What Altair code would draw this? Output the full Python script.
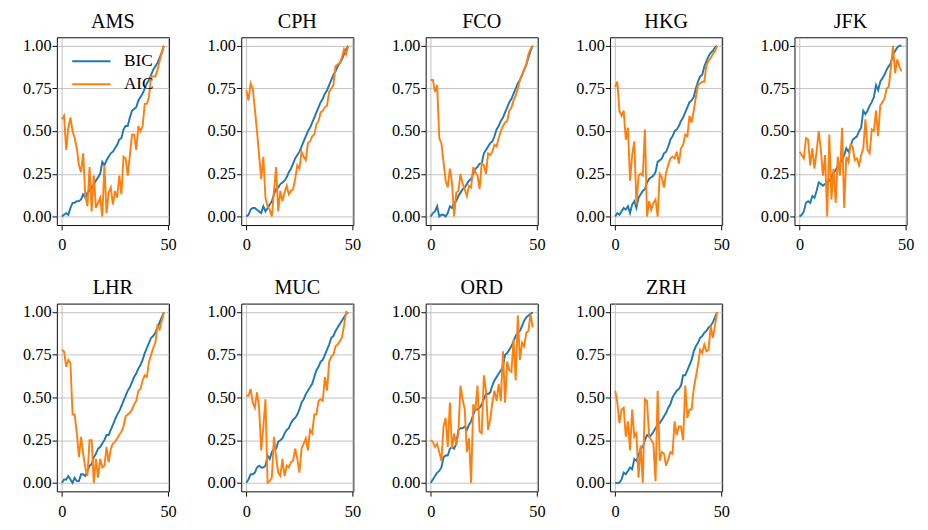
import altair as alt
import pandas as pd

AIRPORTS = ["AMS", "CPH", "FCO", "HKG", "JFK", "LHR", "MUC", "ORD", "ZRH"]
SERIES = ["BIC", "AIC"]
COLORS = ["#1f77b4", "#ff7f0e"]
Y_TICKS = [0, 0.25, 0.5, 0.75, 1.0]
X_TICKS = [0, 50]

AMS_BIC = [0.00,0.01,0.02,0.01,0.05,0.08,0.08,0.09,0.09,0.10,0.13,0.11,0.14,0.15,0.17,0.19,0.21,0.23,0.25,0.32,
           0.30,0.33,0.35,0.37,0.38,0.40,0.42,0.45,0.46,0.51,0.53,0.53,0.58,0.62,0.63,0.64,0.68,0.70,0.72,0.75,
           0.78,0.80,0.83,0.86,0.88,0.90,0.93,0.96,1.00]
AMS_AIC = [0.57,0.59,0.39,0.52,0.58,0.50,0.46,0.40,0.30,0.26,0.37,0.12,0.06,0.29,0.03,0.24,0.05,0.08,0.11,0.00,
           0.30,0.02,0.14,0.17,0.07,0.15,0.11,0.24,0.13,0.35,0.34,0.24,0.36,0.48,0.48,0.39,0.53,0.50,0.53,0.66,
           0.66,0.70,0.82,0.82,0.82,0.86,0.91,0.96,1.00]

CPH_BIC = [0.00,0.01,0.04,0.05,0.05,0.04,0.03,0.02,0.06,0.03,0.05,0.07,0.09,0.13,0.16,0.17,0.19,0.20,0.21,0.23,
           0.26,0.28,0.31,0.34,0.36,0.38,0.41,0.44,0.47,0.50,0.52,0.55,0.58,0.61,0.64,0.67,0.69,0.72,0.74,0.77,
           0.80,0.83,0.85,0.88,0.90,0.92,0.95,0.98,1.00]
CPH_AIC = [0.74,0.68,0.78,0.75,0.63,0.50,0.36,0.22,0.35,0.11,0.06,0.04,0.00,0.15,0.29,0.03,0.15,0.09,0.14,0.18,
           0.13,0.15,0.16,0.22,0.30,0.28,0.38,0.35,0.33,0.43,0.44,0.47,0.48,0.54,0.56,0.61,0.62,0.64,0.65,0.73,
           0.75,0.77,0.88,0.89,0.90,0.93,0.98,0.95,1.00]

FCO_BIC = [0.00,0.02,0.03,0.06,0.00,0.01,0.01,0.00,0.02,0.06,0.05,0.08,0.09,0.12,0.14,0.16,0.17,0.19,0.21,0.22,
           0.25,0.28,0.29,0.31,0.31,0.37,0.39,0.41,0.43,0.44,0.47,0.51,0.53,0.56,0.58,0.61,0.64,0.67,0.69,0.72,
           0.75,0.78,0.80,0.83,0.86,0.89,0.93,0.97,1.00]
FCO_AIC = [0.80,0.80,0.73,0.77,0.46,0.43,0.32,0.21,0.17,0.28,0.20,0.00,0.14,0.15,0.25,0.19,0.16,0.12,0.18,0.17,
           0.29,0.26,0.24,0.16,0.31,0.30,0.25,0.37,0.36,0.38,0.42,0.41,0.46,0.50,0.53,0.55,0.56,0.62,0.64,0.68,
           0.71,0.75,0.80,0.83,0.86,0.89,0.95,0.98,1.00]

HKG_BIC = [0.00,0.02,0.01,0.03,0.05,0.04,0.06,0.02,0.07,0.09,0.05,0.11,0.13,0.15,0.16,0.20,0.22,0.23,0.24,0.26,
           0.32,0.33,0.34,0.37,0.38,0.41,0.45,0.47,0.50,0.51,0.53,0.56,0.58,0.61,0.64,0.67,0.68,0.70,0.75,0.79,
           0.82,0.83,0.88,0.91,0.94,0.96,0.97,0.99,1.00]
HKG_AIC = [0.76,0.79,0.62,0.59,0.62,0.45,0.52,0.21,0.36,0.44,0.07,0.24,0.25,0.24,0.51,0.00,0.09,0.04,0.08,0.10,
           0.00,0.25,0.23,0.17,0.26,0.30,0.34,0.35,0.34,0.38,0.31,0.40,0.42,0.48,0.47,0.59,0.55,0.62,0.70,0.77,
           0.78,0.79,0.79,0.89,0.91,0.93,0.95,0.97,1.00]

JFK_BIC = [0.00,0.01,0.03,0.08,0.09,0.08,0.12,0.11,0.15,0.20,0.19,0.18,0.19,0.20,0.21,0.23,0.26,0.27,0.30,0.31,
           0.33,0.36,0.40,0.38,0.41,0.45,0.46,0.47,0.50,0.52,0.62,0.60,0.62,0.65,0.67,0.70,0.77,0.74,0.79,0.81,
           0.83,0.86,0.88,0.90,0.95,0.97,0.99,1.00,1.00]
JFK_AIC = [0.38,0.36,0.34,0.46,0.45,0.30,0.40,0.28,0.38,0.50,0.39,0.24,0.36,0.00,0.48,0.10,0.28,0.08,0.35,0.24,
           0.52,0.05,0.35,0.32,0.42,0.41,0.33,0.34,0.30,0.36,0.40,0.57,0.39,0.37,0.51,0.50,0.62,0.47,0.65,0.67,
           0.69,0.75,0.76,0.87,1.00,0.84,0.92,0.88,0.85]

LHR_BIC = [0.00,0.02,0.02,0.04,0.02,0.00,0.03,0.01,0.01,0.05,0.05,0.04,0.07,0.10,0.11,0.15,0.17,0.20,0.21,0.23,
           0.25,0.28,0.28,0.31,0.34,0.37,0.40,0.42,0.45,0.48,0.51,0.54,0.56,0.59,0.62,0.64,0.67,0.69,0.72,0.76,
           0.79,0.82,0.85,0.86,0.88,0.91,0.94,0.97,1.00]
LHR_AIC = [0.78,0.77,0.68,0.72,0.70,0.40,0.40,0.29,0.15,0.27,0.17,0.09,0.04,0.25,0.25,0.00,0.14,0.03,0.14,0.09,
           0.10,0.21,0.12,0.20,0.23,0.24,0.26,0.28,0.30,0.33,0.39,0.40,0.41,0.43,0.46,0.48,0.54,0.55,0.60,0.63,
           0.62,0.71,0.75,0.79,0.82,0.92,0.90,0.95,1.00]

MUC_BIC = [0.00,0.02,0.05,0.05,0.06,0.09,0.10,0.09,0.09,0.10,0.16,0.14,0.18,0.20,0.20,0.24,0.25,0.26,0.29,0.31,
           0.32,0.35,0.37,0.38,0.40,0.43,0.47,0.49,0.52,0.54,0.56,0.58,0.62,0.66,0.68,0.71,0.72,0.75,0.78,0.81,
           0.85,0.86,0.89,0.91,0.93,0.95,0.97,0.99,1.00]
MUC_AIC = [0.51,0.51,0.55,0.47,0.44,0.53,0.44,0.19,0.33,0.49,0.00,0.01,0.03,0.27,0.15,0.06,0.04,0.14,0.04,0.10,
           0.09,0.12,0.13,0.20,0.14,0.06,0.20,0.23,0.26,0.19,0.31,0.29,0.40,0.40,0.48,0.49,0.48,0.62,0.54,0.71,
           0.74,0.75,0.80,0.81,0.83,0.85,0.92,1.00,0.99]

ORD_BIC = [0.00,0.02,0.04,0.06,0.07,0.09,0.15,0.16,0.16,0.20,0.21,0.20,0.23,0.31,0.32,0.32,0.33,0.31,0.34,0.36,
           0.40,0.43,0.43,0.44,0.46,0.49,0.52,0.52,0.53,0.57,0.60,0.62,0.64,0.66,0.68,0.75,0.76,0.78,0.80,0.83,
           0.86,0.88,0.89,0.92,0.95,0.97,0.98,0.99,1.00]
ORD_AIC = [0.25,0.24,0.21,0.23,0.18,0.13,0.33,0.38,0.21,0.47,0.20,0.29,0.22,0.29,0.57,0.49,0.43,0.18,0.26,0.00,
           0.46,0.42,0.57,0.30,0.29,0.63,0.54,0.31,0.37,0.47,0.54,0.48,0.58,0.48,0.77,0.47,0.71,0.66,0.65,0.84,
           0.60,0.98,0.72,0.82,0.80,0.88,0.89,0.99,0.91]

ZRH_BIC = [0.00,0.00,0.00,0.02,0.06,0.05,0.07,0.09,0.08,0.14,0.13,0.16,0.20,0.21,0.25,0.28,0.27,0.28,0.30,0.32,
           0.34,0.35,0.37,0.39,0.41,0.44,0.46,0.50,0.52,0.54,0.55,0.57,0.63,0.63,0.66,0.69,0.72,0.77,0.80,0.82,
           0.85,0.86,0.88,0.89,0.91,0.92,0.94,0.97,1.00]
ZRH_AIC = [0.54,0.47,0.35,0.43,0.44,0.27,0.36,0.19,0.43,0.27,0.29,0.03,0.22,0.00,0.49,0.48,0.27,0.25,0.23,0.01,
           0.54,0.13,0.18,0.17,0.10,0.14,0.18,0.17,0.36,0.28,0.33,0.33,0.25,0.57,0.38,0.43,0.43,0.55,0.62,0.69,
           0.78,0.76,0.81,0.77,0.78,0.92,0.85,0.92,1.00]

DATA = {
    "AMS": (AMS_BIC, AMS_AIC), "CPH": (CPH_BIC, CPH_AIC), "FCO": (FCO_BIC, FCO_AIC),
    "HKG": (HKG_BIC, HKG_AIC), "JFK": (JFK_BIC, JFK_AIC), "LHR": (LHR_BIC, LHR_AIC),
    "MUC": (MUC_BIC, MUC_AIC), "ORD": (ORD_BIC, ORD_AIC), "ZRH": (ZRH_BIC, ZRH_AIC),
}

FONT = "Liberation Serif"


def make_df(bic, aic):
    rows = []
    for name, vals in (("BIC", bic), ("AIC", aic)):
        for i, v in enumerate(vals):
            rows.append({"step": i, "share": v, "criterion": name})
    return pd.DataFrame(rows)


def panel(title, bic, aic, with_legend):
    df = make_df(bic, aic)
    if with_legend:
        leg = alt.Legend(orient="top-left", title=None, symbolType="stroke", symbolSize=1600,
                         symbolStrokeWidth=2, clipHeight=20, rowPadding=4, labelOffset=13,
                         labelFont=FONT, labelFontSize=18, labelColor="black", padding=0, offset=15)
    else:
        leg = None
    base = alt.Chart(df).mark_line(strokeWidth=2).encode(
        x=alt.X("step:Q", scale=alt.Scale(domain=[-2.4, 50.4], nice=False, zero=False),
                axis=alt.Axis(values=X_TICKS, format="d", title=None, labelFlush=False, labelPadding=8)),
        y=alt.Y("share:Q", scale=alt.Scale(domain=[-0.05, 1.05], nice=False, zero=False),
                axis=alt.Axis(values=Y_TICKS, format=".2f", title=None, labelFlush=False, labelPadding=1)),
        color=alt.Color("criterion:N", scale=alt.Scale(domain=SERIES, range=COLORS), legend=leg),
    )
    layers = [base.transform_filter(alt.datum.criterion == s) for s in SERIES]
    return alt.layer(*layers).properties(
        width=117, height=196, title=alt.TitleParams(title, anchor="middle")
    )


panels = [panel(a, DATA[a][0], DATA[a][1], a == "AMS") for a in AIRPORTS]

H_SP = 29.5
V_SP = 24
row1 = alt.hconcat(*panels[:5], spacing=H_SP).resolve_scale(color="independent").resolve_legend(color="independent")
row2 = alt.hconcat(*panels[5:], spacing=H_SP).resolve_scale(color="independent").resolve_legend(color="independent")

chart = alt.vconcat(row1, row2, spacing=V_SP).resolve_scale(color="independent").resolve_legend(
    color="independent"
).properties(
    padding={"left": 14, "top": -9, "right": 5, "bottom": 5}
).configure_view(
    stroke="black", strokeWidth=1
).configure_axis(
    domain=False, grid=True, gridColor="#b0b0b0", gridWidth=0.8,
    tickColor="black", tickSize=5, tickWidth=1,
    labelFont=FONT, labelFontSize=17, labelColor="black",
).configure_title(
    font=FONT, fontSize=21, fontWeight="normal", color="black", offset=6
)

chart.save("out.html", embed_options={"renderer": "svg", "actions": False})
